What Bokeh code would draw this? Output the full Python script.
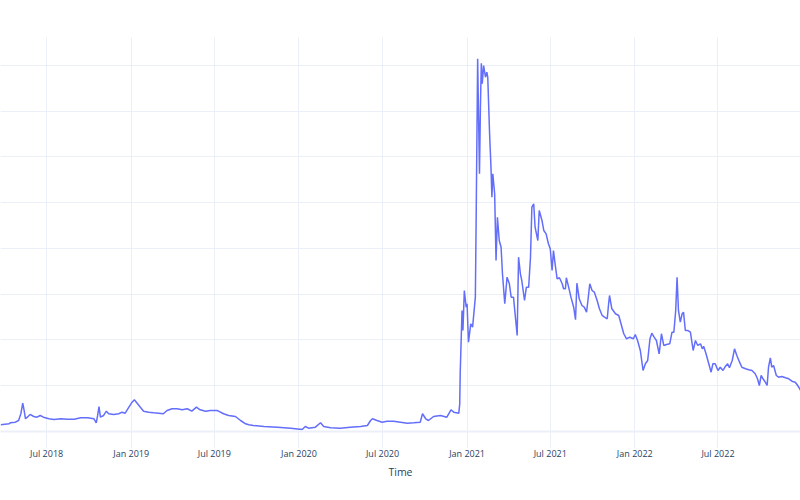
from datetime import datetime
import pandas as pd
from bokeh.plotting import figure
from bokeh.models import Range1d, FixedTicker, DatetimeTickFormatter, Span, ColumnDataSource
from bokeh.embed import file_html
from bokeh.resources import INLINE

dates = [
    "2018-03-23", "2018-04-10", "2018-04-13", "2018-04-24", "2018-05-01", "2018-05-06", "2018-05-10",
    "2018-05-13", "2018-05-16", "2018-05-20", "2018-05-26", "2018-06-03", "2018-06-10", "2018-06-17",
    "2018-06-24", "2018-07-06", "2018-07-17", "2018-08-01", "2018-08-15", "2018-08-30", "2018-09-13",
    "2018-09-28", "2018-10-12", "2018-10-17", "2018-10-20", "2018-10-23", "2018-10-26", "2018-11-02",
    "2018-11-08", "2018-11-13", "2018-11-24", "2018-12-05", "2018-12-12", "2018-12-19", "2018-12-27",
    "2019-01-03", "2019-01-08", "2019-01-14", "2019-01-21", "2019-01-28", "2019-02-08", "2019-02-19",
    "2019-03-02", "2019-03-12", "2019-03-20", "2019-03-31", "2019-04-11", "2019-04-22", "2019-05-03",
    "2019-05-13", "2019-05-23", "2019-05-31", "2019-06-12", "2019-06-22", "2019-07-07", "2019-07-10",
    "2019-07-21", "2019-08-01", "2019-08-16", "2019-08-27", "2019-09-07", "2019-09-14", "2019-09-24",
    "2019-10-17", "2019-11-15", "2019-12-14", "2020-01-08", "2020-01-15", "2020-01-22", "2020-02-06",
    "2020-02-17", "2020-02-24", "2020-03-10", "2020-03-31", "2020-04-22", "2020-05-14", "2020-05-29",
    "2020-06-05", "2020-06-09", "2020-06-19", "2020-06-30", "2020-07-11", "2020-07-25", "2020-08-09",
    "2020-08-24", "2020-09-07", "2020-09-21", "2020-09-26", "2020-10-03", "2020-10-09", "2020-10-20",
    "2020-11-04", "2020-11-18", "2020-11-27", "2020-12-03", "2020-12-14", "2020-12-16", "2020-12-17",
    "2020-12-21", "2020-12-23", "2020-12-26", "2020-12-30", "2021-01-01", "2021-01-04", "2021-01-09",
    "2021-01-13", "2021-01-19", "2021-01-21", "2021-01-24", "2021-01-28", "2021-01-30", "2021-02-01",
    "2021-02-03", "2021-02-06", "2021-02-10", "2021-02-13", "2021-02-15", "2021-02-19", "2021-02-22",
    "2021-02-24", "2021-02-26", "2021-03-02", "2021-03-05", "2021-03-08", "2021-03-12", "2021-03-16",
    "2021-03-19", "2021-03-24", "2021-03-29", "2021-04-03", "2021-04-07", "2021-04-12", "2021-04-20",
    "2021-04-23", "2021-04-27", "2021-04-30", "2021-05-06", "2021-05-10", "2021-05-15", "2021-05-19",
    "2021-05-22", "2021-05-26", "2021-05-29", "2021-06-04", "2021-06-07", "2021-06-13", "2021-06-17",
    "2021-06-22", "2021-06-27", "2021-07-01", "2021-07-05", "2021-07-08", "2021-07-12", "2021-07-16",
    "2021-07-21", "2021-07-27", "2021-07-30", "2021-08-03", "2021-08-05", "2021-08-10", "2021-08-15",
    "2021-08-21", "2021-08-25", "2021-08-28", "2021-09-02", "2021-09-08", "2021-09-13", "2021-09-18",
    "2021-09-21", "2021-09-25", "2021-09-30", "2021-10-05", "2021-10-11", "2021-10-16", "2021-10-22",
    "2021-10-27", "2021-11-02", "2021-11-05", "2021-11-07", "2021-11-12", "2021-11-20", "2021-11-27",
    "2021-12-02", "2021-12-08", "2021-12-14", "2021-12-21", "2021-12-29", "2022-01-02", "2022-01-07",
    "2022-01-13", "2022-01-19", "2022-01-24", "2022-01-29", "2022-02-03", "2022-02-07", "2022-02-12",
    "2022-02-17", "2022-02-23", "2022-02-28", "2022-03-05", "2022-03-11", "2022-03-18", "2022-03-23",
    "2022-03-27", "2022-03-31", "2022-04-03", "2022-04-06", "2022-04-10", "2022-04-14", "2022-04-17",
    "2022-04-21", "2022-04-26", "2022-05-02", "2022-05-08", "2022-05-13", "2022-05-18", "2022-05-24",
    "2022-05-28", "2022-05-31", "2022-06-05", "2022-06-11", "2022-06-16", "2022-06-20", "2022-06-25",
    "2022-07-01", "2022-07-06", "2022-07-12", "2022-07-17", "2022-07-22", "2022-07-26", "2022-08-01",
    "2022-08-06", "2022-08-11", "2022-08-17", "2022-08-22", "2022-08-30", "2022-09-06", "2022-09-13",
    "2022-09-20", "2022-09-25", "2022-09-29", "2022-10-03", "2022-10-07", "2022-10-12", "2022-10-16",
    "2022-10-19", "2022-10-23", "2022-10-26", "2022-10-30", "2022-11-05", "2022-11-10", "2022-11-17",
    "2022-11-25", "2022-12-02", "2022-12-09", "2022-12-16", "2022-12-20", "2022-12-26", "2022-12-31",
]

values = [
    1.46, 1.68, 1.90, 2.03, 2.40, 3.93, 6.19,
    4.59, 2.78, 3.13, 3.72, 3.28, 3.13, 3.50,
    3.13, 2.78, 2.62, 2.78, 2.69, 2.69, 2.99,
    2.99, 2.78, 1.90, 3.50, 5.46, 3.13, 3.50,
    4.44, 3.87, 3.72, 3.87, 4.22, 4.00, 5.31,
    6.40, 6.93, 6.19, 5.31, 4.44, 4.22, 4.09,
    4.00, 3.87, 4.59, 4.96, 4.96, 4.74, 4.96,
    4.44, 5.31, 4.74, 4.44, 4.59, 4.59, 4.44,
    3.87, 3.50, 3.28, 2.40, 1.68, 1.46, 1.31,
    1.09, 0.94, 0.72, 0.44, 1.09, 0.72, 0.94,
    1.90, 1.09, 0.81, 0.72, 0.94, 1.09, 1.31,
    2.40, 2.78, 2.40, 2.03, 2.25, 2.25, 2.03,
    1.81, 1.90, 2.03, 3.87, 2.78, 2.40, 3.28,
    3.50, 3.13, 4.74, 4.22, 4.00, 6.05, 12.61,
    26.45, 22.08, 30.82, 27.17, 27.91, 19.52, 23.54,
    22.80, 29.36, 49.03, 81.46, 56.33, 70.89, 80.50,
    76.00, 80.00, 77.44, 78.54, 77.44, 65.07, 57.77,
    51.21, 56.33, 51.96, 37.38, 46.84, 41.75, 40.28,
    34.47, 27.91, 33.73, 32.28, 29.36, 29.36, 20.98,
    38.10, 34.47, 33.01, 28.63, 31.54, 31.54, 38.10,
    49.03, 49.77, 44.66, 41.75, 48.31, 46.12, 43.93,
    43.21, 41.03, 39.93, 35.19, 39.56, 36.28, 33.38,
    33.60, 32.28, 31.19, 31.19, 33.60, 31.54, 29.36,
    27.17, 24.42, 32.42, 29.01, 27.54, 27.17, 26.08,
    28.63, 32.28, 30.82, 30.45, 28.63, 26.82, 25.36,
    24.98, 24.63, 27.91, 29.73, 26.82, 25.73, 25.36,
    23.54, 21.36, 20.26, 20.61, 20.26, 21.20, 19.89,
    17.70, 13.33, 14.80, 15.52, 20.26, 21.49, 20.61,
    19.89, 16.98, 21.36, 18.80, 19.02, 19.17, 21.70,
    21.70, 26.45, 33.73, 26.45, 23.89, 25.73, 26.08,
    22.08, 22.08, 21.70, 17.70, 19.89, 18.80, 19.17,
    18.08, 18.58, 16.98, 14.80, 12.96, 14.80, 14.80,
    13.33, 14.05, 13.33, 14.21, 14.80, 13.92, 15.52,
    18.08, 16.61, 15.15, 14.05, 13.70, 13.49, 13.33,
    12.61, 11.52, 10.05, 12.24, 11.52, 10.78, 10.05,
    14.05, 16.11, 14.05, 14.43, 12.24, 11.87, 12.02,
    11.74, 11.52, 10.99, 10.78, 10.27, 9.33, 8.31,
]

x_tick_dates = ["2018-07-01", "2019-01-01", "2019-07-01", "2020-01-01", "2020-07-01",
                "2021-01-01", "2021-07-01", "2022-01-01", "2022-07-01", "2023-01-01"]
y_ticks = [0, 10, 20, 30, 40, 50, 60, 70, 80]

GRID = "#EBF0F8"
TEXT = "#2a3f5f"

source = ColumnDataSource(dict(t=pd.to_datetime(dates), v=values))

p = figure(width=800, height=500, x_axis_type="datetime",
           output_backend="svg", toolbar_location=None,
           x_range=Range1d(datetime(2018, 3, 22, 14, 24), datetime(2022, 12, 27, 14, 24)),
           y_range=Range1d(-3.72, 86.12),
           min_border_left=0, min_border_right=0, min_border_top=37, min_border_bottom=52)

p.outline_line_color = None
p.background_fill_color = "white"
p.border_fill_color = "white"

tick_ms = [pd.Timestamp(d).value / 1e6 for d in x_tick_dates]
p.xaxis.ticker = FixedTicker(ticks=tick_ms)
p.xgrid.ticker = FixedTicker(ticks=tick_ms)
fmt = "%b %Y"
p.xaxis.formatter = DatetimeTickFormatter(years=fmt, months=fmt, days=fmt, hours=fmt,
                                          hourmin=fmt, minutes=fmt, minsec=fmt,
                                          seconds=fmt, milliseconds=fmt, microseconds=fmt)
p.xaxis.axis_line_color = None
p.xaxis.major_tick_line_color = None
p.xaxis.minor_tick_line_color = None
p.xaxis.major_tick_out = 0
p.xaxis.major_tick_in = 0
p.xaxis.major_label_standoff = -2
p.xaxis.major_label_text_font = "Open Sans"
p.xaxis.major_label_text_font_size = "9px"
p.xaxis.major_label_text_color = TEXT
p.xaxis.axis_label = "Time"
p.xaxis.axis_label_text_font = "Open Sans"
p.xaxis.axis_label_text_font_size = "10.5px"
p.xaxis.axis_label_text_font_style = "normal"
p.xaxis.axis_label_text_color = TEXT
p.xaxis.axis_label_standoff = 2

p.yaxis.ticker = FixedTicker(ticks=y_ticks)
p.ygrid.ticker = FixedTicker(ticks=y_ticks)
p.yaxis.visible = False

p.xgrid.grid_line_color = GRID
p.ygrid.grid_line_color = GRID
p.xgrid.grid_line_width = 1
p.ygrid.grid_line_width = 1

p.add_layout(Span(location=0, dimension="width", line_color=GRID, line_width=2))

p.line("t", "v", source=source, line_color="#636efa", line_width=1.5)

open("out.html", "w").write(file_html(p, INLINE))
